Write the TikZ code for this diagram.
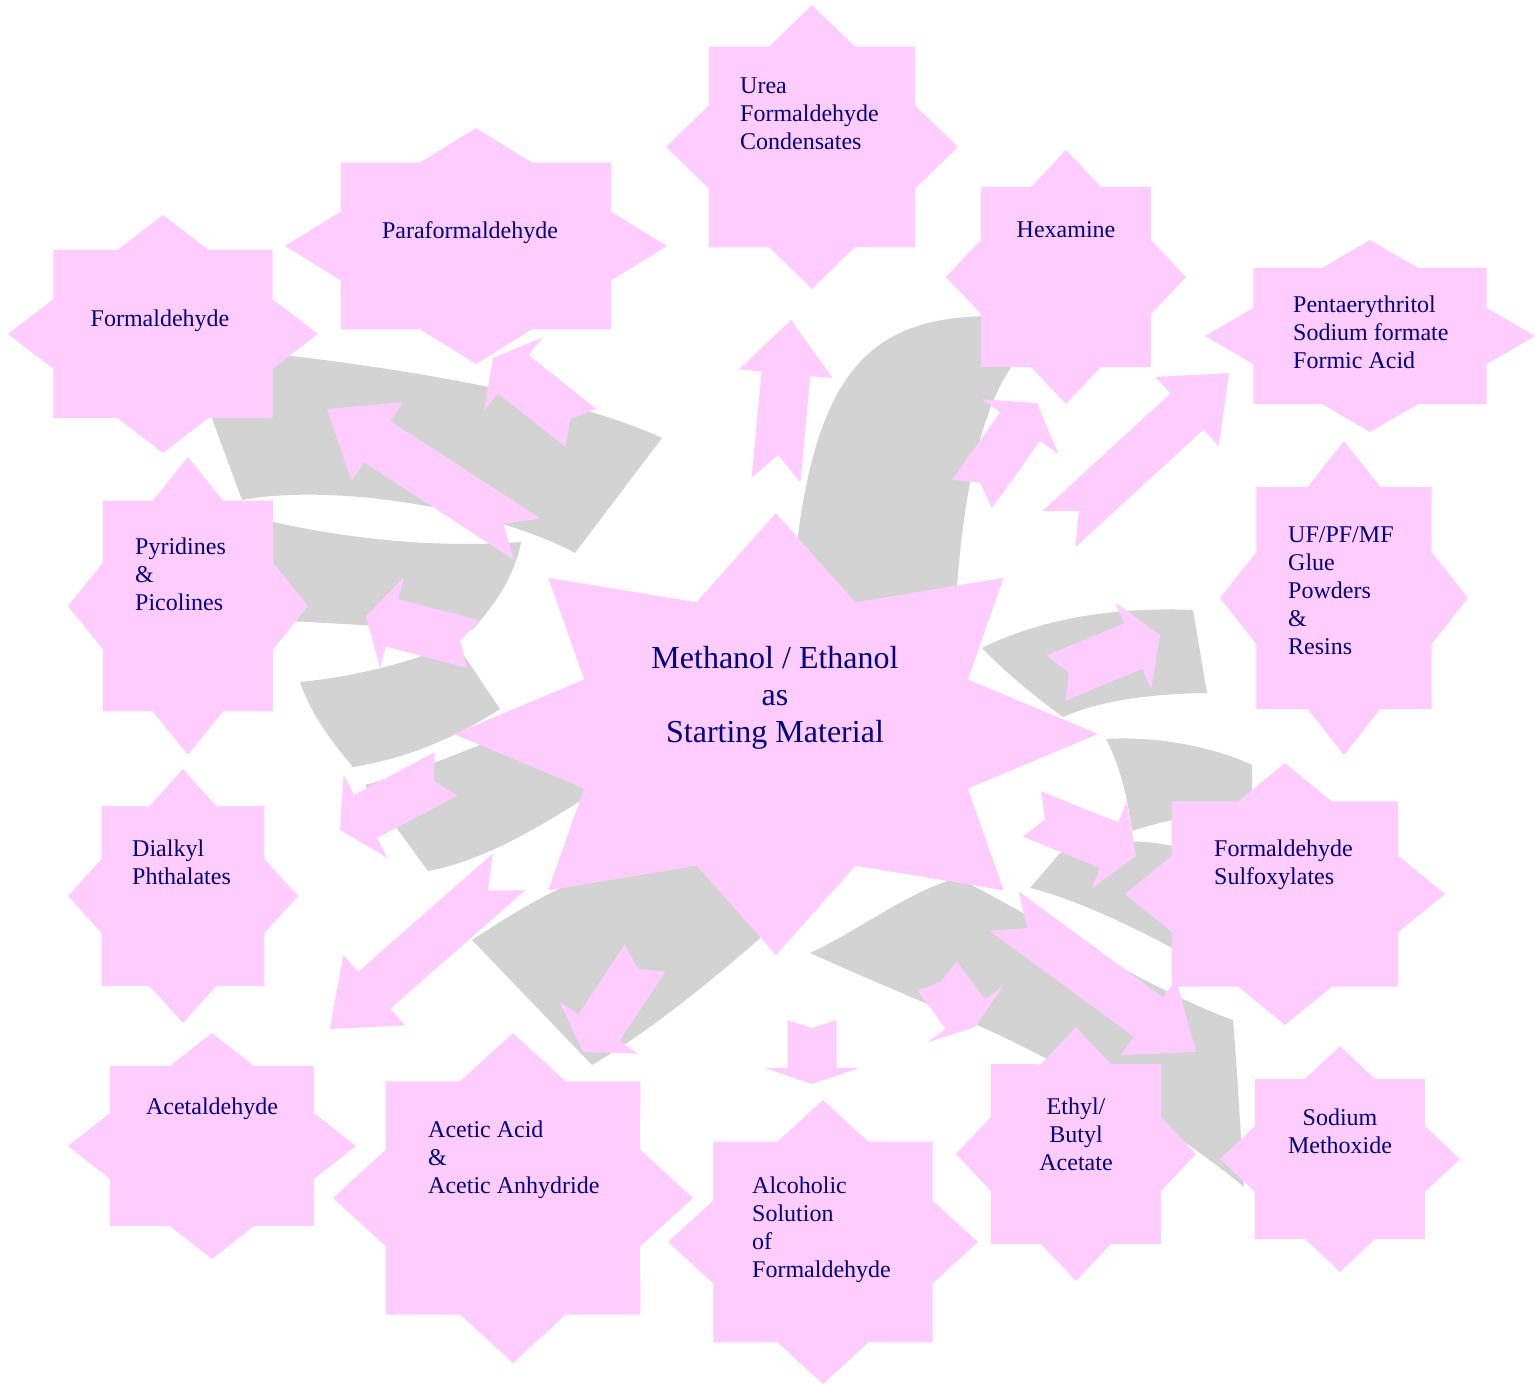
\documentclass[tikz,border=0pt]{standalone}
\usepackage{fontspec}
\setmainfont{Liberation Serif}
\usetikzlibrary{calc}

\definecolor{petalpink}{HTML}{FFCCFF}
\definecolor{shadegray}{HTML}{D3D3D3}
\definecolor{inkblue}{HTML}{000080}

% eight-point star: centre (#1,#2), half axes #3 and #4, inner ratio #5
\newcommand\octstar[5]{%
  \fill[petal] ({#1+#3},{#2})
    \foreach \k in {22.5,67.5,...,337.5}
      { -- ({#1+#5*#3*cos(\k)},{#2+#5*#4*sin(\k)})
        -- ({#1+#3*cos(\k+22.5)},{#2+#4*sin(\k+22.5)}) } -- cycle;}

% block arrow with notched tail: tail, tip, head length, notch depth
\newcommand\blockarrow[4]{%
  \coordinate (hb) at ($(#2)!#3!(#1)$);
  \coordinate (nt) at ($(#1)!#4!(#2)$);
  \fill[petal] (#2) -- ($(hb)!47pt!90:(#2)$) -- ($(hb)!24.5pt!90:(#2)$)
    -- ($(#1)!24.5pt!90:(#2)$) -- (nt) -- ($(#1)!24.5pt!-90:(#2)$)
    -- ($(hb)!24.5pt!-90:(#2)$) -- ($(hb)!47pt!-90:(#2)$) -- cycle;}

\begin{document}
\begin{tikzpicture}[
  x=1pt, y=-1pt,
  petal/.style={fill=petalpink},
  shade/.style={fill=shadegray},
  tag/.style={font=\fontsize{24}{28}\selectfont, text=inkblue, inner sep=0pt, align=left},
]
  \useasboundingbox (0,0) rectangle (1535,1384);

  % grey bands behind
  \fill[shade] (185,345) .. controls (380,362) and (570,395) .. (662,438)
    -- (575,553) .. controls (500,512) and (340,482) .. (242,500) -- cycle;
  \fill[shade] (265,520) .. controls (350,540) and (440,548) .. (521,542)
    .. controls (515,575) and (495,605) .. (472,630)
    .. controls (400,628) and (320,622) .. (265,620) -- cycle;
  \fill[shade] (300,682) .. controls (360,676) and (420,660) .. (455,642)
    -- (500,709) .. controls (460,735) and (410,758) .. (353,767)
    .. controls (330,740) and (310,712) .. (300,682) -- cycle;
  \fill[shade] (365,785) .. controls (420,770) and (500,740) .. (600,690)
    -- (620,775) .. controls (560,815) and (490,860) .. (428,871) -- cycle;
  \fill[shade] (472,940) .. controls (510,915) and (540,897) .. (570,884)
    -- (700,860) -- (775,925) .. controls (730,965) and (660,1025) .. (592,1065) -- cycle;
  \fill[shade] (790,620) .. controls (805,380) and (860,318) .. (988,316)
    -- (1012,366) .. controls (985,405) and (962,480) .. (955,620) -- cycle;
  \fill[shade] (982,648) .. controls (1030,624) and (1100,606) .. (1193,610)
    -- (1207,693) .. controls (1140,694) and (1095,703) .. (1063,717)
    .. controls (1035,697) and (1003,670) .. (982,648) -- cycle;
  \fill[shade] (1106,739) .. controls (1150,736) and (1210,745) .. (1252,765)
    -- (1252,810) .. controls (1215,812) and (1170,818) .. (1132,831)
    .. controls (1128,800) and (1120,765) .. (1106,739) -- cycle;
  \fill[shade] (1030,888) -- (1060,853) .. controls (1090,840) and (1140,836) .. (1190,850)
    -- (1190,958) .. controls (1150,935) and (1080,900) .. (1030,888) -- cycle;
  \fill[shade] (810,953) .. controls (860,930) and (910,890) .. (958,878)
    .. controls (1050,925) and (1150,990) .. (1233,1020)
    .. controls (1238,1080) and (1241,1140) .. (1244,1187)
    .. controls (1200,1150) and (1100,1080) .. (977,1025)
    .. controls (930,1005) and (870,980) .. (810,953) -- cycle;

  % arrow ends
  \coordinate (formal-t) at (527,539);   \coordinate (formal-h) at (327,409);
  \coordinate (parafor-t) at (581,428);  \coordinate (parafor-h) at (493,358);
  \coordinate (urea-t) at (776,480);     \coordinate (urea-h) at (791,320);
  \coordinate (hexa-t) at (972,494);     \coordinate (hexa-h) at (1037,403);
  \coordinate (penta-t) at (1059,529);   \coordinate (penta-h) at (1229,373);
  \coordinate (glue-t) at (1056,678);    \coordinate (glue-h) at (1160,635);
  \coordinate (sulfox-t) at (1032,814);  \coordinate (sulfox-h) at (1136,856);
  \coordinate (methox-t) at (1004,911);  \coordinate (methox-h) at (1196,1052);
  \coordinate (acetate-t) at (937,976);  \coordinate (acetate-h) at (975,1027);
  \coordinate (alcsol-t) at (812,1020);  \coordinate (alcsol-h) at (812,1084);
  \coordinate (acetic-t) at (645,958);   \coordinate (acetic-h) at (583,1052);
  \coordinate (acetal-t) at (509,872);   \coordinate (acetal-h) at (330,1029);
  \coordinate (phthal-t) at (446,774);   \coordinate (phthal-h) at (340,830);
  \coordinate (pyrid-t) at (473,644);    \coordinate (pyrid-h) at (366,616);

  % arrows
  \blockarrow{formal-t}{formal-h}{60pt}{28pt}
  \blockarrow{parafor-t}{parafor-h}{26pt}{14pt}
  \blockarrow{urea-t}{urea-h}{54pt}{25pt}
  \blockarrow{hexa-t}{hexa-h}{29pt}{14pt}
  \blockarrow{penta-t}{penta-h}{57pt}{27pt}
  \blockarrow{glue-t}{glue-h}{29pt}{14pt}
  \blockarrow{sulfox-t}{sulfox-h}{29pt}{14pt}
  \blockarrow{methox-t}{methox-h}{59pt}{29pt}
  \blockarrow{acetate-t}{acetate-h}{16pt}{7pt}
  \blockarrow{alcsol-t}{alcsol-h}{16pt}{8pt}
  \blockarrow{acetic-t}{acetic-h}{29pt}{13pt}
  \blockarrow{acetal-t}{acetal-h}{59pt}{28pt}
  \blockarrow{phthal-t}{phthal-h}{29pt}{14pt}
  \blockarrow{pyrid-t}{pyrid-h}{27pt}{13pt}

  % stars
  \octstar{776}{734}{322}{221}{0.645}
  \octstar{812}{147}{146}{142}{0.765}
  \octstar{1066}{277}{120}{127}{0.765}
  \octstar{1370}{336}{165}{96}{0.765}
  \octstar{1344}{598}{124}{157}{0.765}
  \octstar{1285}{894}{160}{131}{0.765}
  \octstar{1340}{1159}{120}{113}{0.765}
  \octstar{1076}{1154}{120}{127}{0.765}
  \octstar{823}{1242}{155}{142}{0.765}
  \octstar{513}{1198}{180}{165}{0.765}
  \octstar{212}{1146}{144}{113}{0.765}
  \octstar{183}{896}{115}{127}{0.765}
  \octstar{188}{606}{120}{149}{0.765}
  \octstar{163}{334}{155}{119}{0.765}
  \octstar{476}{246}{191}{118}{0.765}

  % texts
  \node[tag, align=center, anchor=north, font=\fontsize{32}{37}\selectfont]
    (centre) at (775,646) {Methanol / Ethanol\\as\\Starting Material};
  \node[tag, anchor=north west] (urea) at (740,78) {Urea\\Formaldehyde\\Condensates};
  \node[tag, anchor=north] (hexa) at (1066,221) {Hexamine};
  \node[tag, anchor=north west] (penta) at (1293,296) {Pentaerythritol\\Sodium formate\\Formic Acid};
  \node[tag, anchor=north west] (glue) at (1288,526) {UF/PF/MF\\Glue\\Powders\\\&\\Resins};
  \node[tag, anchor=north west] (sulfox) at (1214,840) {Formaldehyde\\Sulfoxylates};
  \node[tag, align=center, anchor=north] (methox) at (1340,1109) {Sodium\\Methoxide};
  \node[tag, align=center, anchor=north] (acetate) at (1076,1098) {Ethyl/\\Butyl\\Acetate};
  \node[tag, anchor=north west] (alcsol) at (752,1177) {Alcoholic\\Solution\\of\\Formaldehyde};
  \node[tag, anchor=north west] (acetic) at (428,1121) {Acetic Acid\\\&\\Acetic Anhydride};
  \node[tag, anchor=north] (acetal) at (212,1098) {Acetaldehyde};
  \node[tag, anchor=north west] (phthal) at (132,840) {Dialkyl\\Phthalates};
  \node[tag, anchor=north west] (pyrid) at (135,538) {Pyridines\\\&\\Picolines};
  \node[tag, anchor=north] (formal) at (160,310) {Formaldehyde};
  \node[tag, anchor=north] (parafor) at (470,221) {Paraformaldehyde};

\end{tikzpicture}
\end{document}
